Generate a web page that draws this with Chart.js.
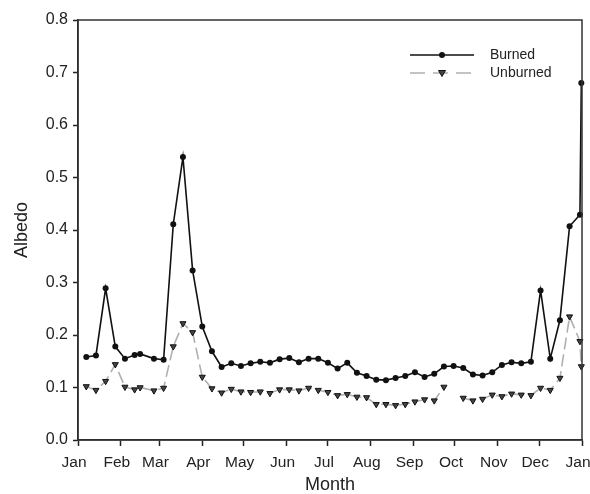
<!DOCTYPE html>
<html>
<head>
<meta charset="utf-8">
<script src="https://cdn.jsdelivr.net/npm/chart.js@4"></script>
<style>
  body { margin: 0; background: #fff; }
</style>
</head>
<body>
<canvas id="myChart" width="590" height="494"></canvas>
<script>
// day of year for each sample
const days = [6, 13, 20, 27, 34, 41, 45, 55, 62, 69, 76, 83, 90, 97, 104, 111, 118, 125, 132, 139,
  146, 153, 160, 167, 174, 181, 188, 195, 202, 209, 216, 223, 230, 237, 244, 251, 258, 265,
  272, 279, 286, 293, 300, 307, 314, 321, 328, 335, 342, 349, 356, 363.5, 364.5];

const burned = [0.158, 0.161, 0.289, 0.178, 0.155, 0.162, 0.164, 0.155, 0.153, 0.411, 0.539, 0.323,
  0.216, 0.169, 0.139, 0.146, 0.141, 0.146, 0.149, 0.147, 0.154, 0.156, 0.148, 0.155, 0.155, 0.147,
  0.136, 0.147, 0.128, 0.122, 0.115, 0.114, 0.118, 0.122, 0.129, 0.120, 0.126, 0.140, 0.141, 0.137,
  0.125, 0.123, 0.129, 0.143, 0.148, 0.146, 0.149, 0.285, 0.155, 0.228, 0.407, 0.429, 0.680];

const unburned = [0.102, 0.095, 0.112, 0.144, 0.101, 0.096, 0.100, 0.094, 0.099, 0.178, 0.222, 0.205,
  0.120, 0.098, 0.090, 0.097, 0.092, 0.091, 0.092, 0.089, 0.096, 0.096, 0.094, 0.099, 0.095, 0.091,
  0.085, 0.087, 0.082, 0.081, 0.068, 0.068, 0.066, 0.068, 0.073, 0.077, 0.075, 0.101, null, 0.080,
  0.075, 0.078, 0.086, 0.083, 0.088, 0.086, 0.085, 0.099, 0.095, 0.118, 0.235, 0.188, 0.140];

const monthDays = [0, 31, 59, 90, 120, 151, 181, 212, 243, 273, 304, 334, 365];
const monthLabels = ['Jan', 'Feb', 'Mar', 'Apr', 'May', 'Jun', 'Jul', 'Aug', 'Sep', 'Oct', 'Nov', 'Dec', 'Jan'];

const FONT = 'Liberation Sans, Arial, sans-serif';
const INK = '#222';

// box around the plot + the legend in the upper right
const extras = {
  id: 'extras',
  afterDraw(chart) {
    const c = chart.ctx;
    const a = chart.chartArea;
    c.save();
    c.strokeStyle = '#333';
    c.lineWidth = 1.5;
    c.strokeRect(a.left, a.top, a.right - a.left, a.bottom - a.top);

    // legend
    c.lineWidth = 1.6;
    c.strokeStyle = '#111';
    c.beginPath(); c.moveTo(410, 55); c.lineTo(474, 55); c.stroke();
    c.fillStyle = '#111';
    c.beginPath(); c.arc(442, 55, 3, 0, Math.PI * 2); c.fill();

    c.strokeStyle = '#b0b0b0';
    c.setLineDash([15, 8]);
    c.beginPath(); c.moveTo(410, 73); c.lineTo(474, 73); c.stroke();
    c.setLineDash([]);
    c.fillStyle = '#444';
    c.strokeStyle = '#111';
    c.lineWidth = 1;
    c.beginPath(); c.moveTo(438.5, 70.5); c.lineTo(445.5, 70.5); c.lineTo(442, 76.5); c.closePath();
    c.fill(); c.stroke();

    c.fillStyle = INK;
    c.font = '14px ' + FONT;
    c.textBaseline = 'middle';
    c.fillText('Burned', 490, 55);
    c.fillText('Unburned', 490, 73);
    c.restore();
  }
};

const ctx = document.getElementById('myChart').getContext('2d');
const myChart = new Chart(ctx, {
  type: 'line',
  data: {
    datasets: [{
      label: 'Unburned',
      data: days.map((d, i) => ({ x: d, y: unburned[i] })),
      borderColor: '#b0b0b0',
      borderWidth: 1.6,
      borderDash: [12, 5],
      pointStyle: 'triangle',
      rotation: 180,
      pointRadius: 3.5,
      pointBackgroundColor: '#444',
      pointBorderColor: '#111',
      pointBorderWidth: 1,
      tension: 0,
      spanGaps: false,
      clip: false
    }, {
      label: 'Burned',
      data: days.map((d, i) => ({ x: d, y: burned[i] })),
      borderColor: '#111',
      borderWidth: 1.6,
      pointStyle: 'circle',
      pointRadius: 3,
      pointBackgroundColor: '#111',
      pointBorderWidth: 0,
      tension: 0,
      clip: false
    }]
  },
  options: {
    responsive: false,
    animation: false,
    devicePixelRatio: 1,
    layout: { padding: { left: 0, right: 8, top: 20, bottom: 0 } },
    plugins: {
      legend: { display: false },
      tooltip: { enabled: false }
    },
    scales: {
      x: {
        type: 'linear',
        min: 0,
        max: 365,
        afterBuildTicks: (scale) => { scale.ticks = monthDays.map(v => ({ value: v })); },
        afterFit: (scale) => { scale.height = 54; scale.paddingLeft = 0; scale.paddingRight = 0; },
        ticks: {
          autoSkip: false,
          maxRotation: 0,
          padding: 7,
          labelOffset: -4,
          color: INK,
          font: { family: FONT, size: 15.5 },
          callback: (value, index) => monthLabels[index]
        },
        grid: { drawOnChartArea: false, drawTicks: true, tickLength: 6, tickColor: '#222', tickWidth: 1.5 },
        border: { display: true, color: '#222', width: 1.5 },
        title: {
          display: true,
          text: 'Month',
          color: INK,
          font: { family: FONT, size: 18, lineHeight: 1 },
          padding: { top: 0, bottom: 0 }
        }
      },
      y: {
        min: 0,
        max: 0.8,
        afterFit: (scale) => { scale.width = 78; },
        ticks: {
          stepSize: 0.1,
          padding: 5,
          color: INK,
          font: { family: FONT, size: 16 },
          callback: (v) => v.toFixed(1)
        },
        grid: { drawOnChartArea: false, drawTicks: true, tickLength: 5, tickColor: '#222', tickWidth: 1.5 },
        border: { display: true, color: '#222', width: 1.5 },
        title: {
          display: true,
          text: 'Albedo',
          color: INK,
          font: { family: FONT, size: 18, lineHeight: 1 },
          padding: { top: 13, bottom: 0 }
        }
      }
    }
  },
  plugins: [extras]
});
</script>
</body>
</html>
